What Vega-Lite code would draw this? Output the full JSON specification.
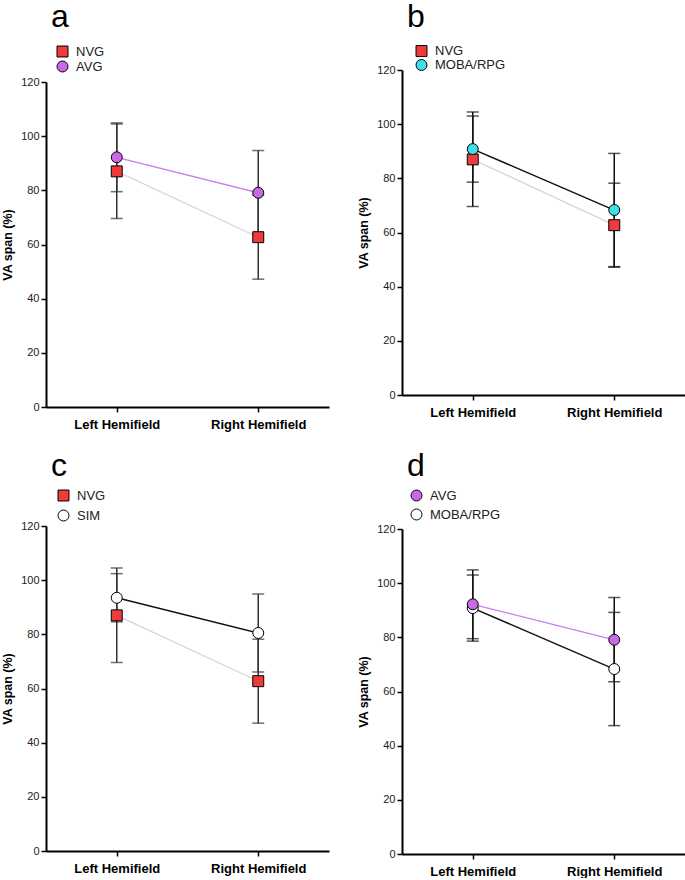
{
  "$schema": "https://vega.github.io/schema/vega-lite/v6.json",
  "background": "white",
  "padding": {"left": 1, "top": 1, "right": 0, "bottom": 0},
  "spacing": 28,
  "resolve": {"scale": {"color": "independent", "shape": "independent"}, "legend": {"color": "independent", "shape": "independent"}},
  "config": {
    "view": {"stroke": null},
    "font": "Liberation Sans",
    "axis": {"domainColor": "black", "domainWidth": 2, "tickColor": "black", "tickWidth": 1.5, "tickSize": 5, "grid": false, "labelColor": "#222"},
    "axisY": {"labelFontSize": 11, "titleFontSize": 12.5, "titleFontWeight": "bold", "titleColor": "black", "labelPadding": 2, "titlePadding": 6},
    "axisX": {"labelFontSize": 13, "labelFontWeight": "bold", "labelColor": "black", "labelAngle": 0, "labelPadding": 6, "title": null},
    "title": {"anchor": "start", "frame": "group", "fontSize": 32, "fontWeight": "normal", "baseline": "alphabetic", "dx": 5, "color": "black"}
  },
  "hconcat": [
    {
      "spacing": 19,
      "resolve": {"scale": {"color": "independent", "shape": "independent"}, "legend": {"color": "independent", "shape": "independent"}},
      "vconcat": [
        {
          "title": {"text": "a", "offset": 11},
          "width": 283, "height": 337,
          "data": {"values": [
            {"group": "NVG", "hemi": "Left Hemifield", "mean": 87.0, "lo": 69.6, "hi": 104.5},
            {"group": "NVG", "hemi": "Right Hemifield", "mean": 62.7, "lo": 47.2, "hi": 78.2},
            {"group": "AVG", "hemi": "Left Hemifield", "mean": 92.2, "lo": 79.5, "hi": 104.9},
            {"group": "AVG", "hemi": "Right Hemifield", "mean": 79.1, "lo": 63.6, "hi": 94.7}
          ]},
          "encoding": {"x": {"field": "hemi", "type": "nominal", "scale": {"type": "point", "padding": 0.5, "domain": ["Left Hemifield", "Right Hemifield"]}}},
          "layer": [
            {"transform": [{"filter": {"field": "group", "equal": "NVG"}}],
             "mark": {"type": "line", "strokeWidth": 1.3, "color": "#d6d6d6"},
             "encoding": {"y": {"field": "mean", "type": "quantitative", "scale": {"domain": [0, 120], "range": [337, 12]}, "title": "VA span (%)", "axis": {"values": [0, 20, 40, 60, 80, 100, 120]}}}},
            {"transform": [{"filter": {"field": "group", "equal": "AVG"}}],
             "mark": {"type": "line", "strokeWidth": 1.3, "color": "#c97fe9"},
             "encoding": {"y": {"field": "mean", "type": "quantitative", "title": "VA span (%)", "axis": {"values": [0, 20, 40, 60, 80, 100, 120]}}}},
            {"mark": {"type": "rule", "color": "#333", "strokeWidth": 1.5},
             "encoding": {"y": {"field": "lo", "type": "quantitative", "title": "VA span (%)", "axis": {"values": [0, 20, 40, 60, 80, 100, 120]}}, "y2": {"field": "hi"}, "detail": {"field": "group"}}},
            {"mark": {"type": "tick", "color": "#333", "thickness": 1.5, "size": 12},
             "encoding": {"y": {"field": "lo", "type": "quantitative", "title": "VA span (%)", "axis": {"values": [0, 20, 40, 60, 80, 100, 120]}}}},
            {"mark": {"type": "tick", "color": "#333", "thickness": 1.5, "size": 12},
             "encoding": {"y": {"field": "hi", "type": "quantitative", "title": "VA span (%)", "axis": {"values": [0, 20, 40, 60, 80, 100, 120]}}}},
            {"mark": {"type": "point", "filled": true, "size": 120, "stroke": "black", "strokeWidth": 1, "opacity": 1},
             "encoding": {"y": {"field": "mean", "type": "quantitative", "title": "VA span (%)", "axis": {"values": [0, 20, 40, 60, 80, 100, 120]}},
                          "color": {"field": "group", "type": "nominal", "scale": {"domain": ["NVG", "AVG"], "range": ["#ef3b3b", "#c86ae8"]}, "legend": {"orient": "none", "title": null, "legendX": 10, "legendY": -25, "rowPadding": 0, "labelOffset": 7, "labelFontSize": 13, "labelColor": "#222", "symbolSize": 120, "symbolStrokeColor": "black", "symbolStrokeWidth": 1}},
                          "shape": {"field": "group", "type": "nominal", "scale": {"domain": ["NVG", "AVG"], "range": ["square", "circle"]}, "legend": {"orient": "none", "title": null, "legendX": 10, "legendY": -25, "rowPadding": 0, "labelOffset": 7, "labelFontSize": 13, "labelColor": "#222", "symbolSize": 120, "symbolStrokeColor": "black", "symbolStrokeWidth": 1}}}}
          ]
        },
        {
          "title": {"text": "c", "offset": 6},
          "width": 283, "height": 325,
          "data": {"values": [
            {"group": "NVG", "hemi": "Left Hemifield", "mean": 87.0, "lo": 69.6, "hi": 104.5},
            {"group": "NVG", "hemi": "Right Hemifield", "mean": 62.7, "lo": 47.2, "hi": 78.2},
            {"group": "SIM", "hemi": "Left Hemifield", "mean": 93.5, "lo": 84.6, "hi": 102.4},
            {"group": "SIM", "hemi": "Right Hemifield", "mean": 80.5, "lo": 66.1, "hi": 94.9}
          ]},
          "encoding": {"x": {"field": "hemi", "type": "nominal", "scale": {"type": "point", "padding": 0.5, "domain": ["Left Hemifield", "Right Hemifield"]}}},
          "layer": [
            {"transform": [{"filter": {"field": "group", "equal": "NVG"}}],
             "mark": {"type": "line", "strokeWidth": 1.3, "color": "#d6d6d6"},
             "encoding": {"y": {"field": "mean", "type": "quantitative", "scale": {"domain": [0, 120]}, "title": "VA span (%)", "axis": {"values": [0, 20, 40, 60, 80, 100, 120]}}}},
            {"transform": [{"filter": {"field": "group", "equal": "SIM"}}],
             "mark": {"type": "line", "strokeWidth": 1.4, "color": "#111111"},
             "encoding": {"y": {"field": "mean", "type": "quantitative", "title": "VA span (%)", "axis": {"values": [0, 20, 40, 60, 80, 100, 120]}}}},
            {"mark": {"type": "rule", "color": "#333", "strokeWidth": 1.5},
             "encoding": {"y": {"field": "lo", "type": "quantitative", "title": "VA span (%)", "axis": {"values": [0, 20, 40, 60, 80, 100, 120]}}, "y2": {"field": "hi"}, "detail": {"field": "group"}}},
            {"mark": {"type": "tick", "color": "#333", "thickness": 1.5, "size": 12},
             "encoding": {"y": {"field": "lo", "type": "quantitative", "title": "VA span (%)", "axis": {"values": [0, 20, 40, 60, 80, 100, 120]}}}},
            {"mark": {"type": "tick", "color": "#333", "thickness": 1.5, "size": 12},
             "encoding": {"y": {"field": "hi", "type": "quantitative", "title": "VA span (%)", "axis": {"values": [0, 20, 40, 60, 80, 100, 120]}}}},
            {"mark": {"type": "point", "filled": true, "size": 120, "stroke": "black", "strokeWidth": 1, "opacity": 1},
             "encoding": {"y": {"field": "mean", "type": "quantitative", "title": "VA span (%)", "axis": {"values": [0, 20, 40, 60, 80, 100, 120]}},
                          "color": {"field": "group", "type": "nominal", "scale": {"domain": ["NVG", "SIM"], "range": ["#ef3b3b", "#ffffff"]}, "legend": {"orient": "none", "title": null, "legendX": 11, "legendY": -37, "rowPadding": 5, "labelOffset": 7, "labelFontSize": 13, "labelColor": "#222", "symbolSize": 120, "symbolStrokeColor": "black", "symbolStrokeWidth": 1}},
                          "shape": {"field": "group", "type": "nominal", "scale": {"domain": ["NVG", "SIM"], "range": ["square", "circle"]}, "legend": {"orient": "none", "title": null, "legendX": 11, "legendY": -37, "rowPadding": 5, "labelOffset": 7, "labelFontSize": 13, "labelColor": "#222", "symbolSize": 120, "symbolStrokeColor": "black", "symbolStrokeWidth": 1}}}}
          ]
        }
      ]
    },
    {
      "spacing": 31,
      "resolve": {"scale": {"color": "independent", "shape": "independent"}, "legend": {"color": "independent", "shape": "independent"}},
      "vconcat": [
        {
          "title": {"text": "b", "offset": 10.5},
          "width": 283, "height": 325,
          "data": {"values": [
            {"group": "NVG", "hemi": "Left Hemifield", "mean": 87.0, "lo": 69.6, "hi": 104.5},
            {"group": "NVG", "hemi": "Right Hemifield", "mean": 62.7, "lo": 47.2, "hi": 78.2},
            {"group": "MOBA/RPG", "hemi": "Left Hemifield", "mean": 90.8, "lo": 78.6, "hi": 103.0},
            {"group": "MOBA/RPG", "hemi": "Right Hemifield", "mean": 68.3, "lo": 47.4, "hi": 89.2}
          ]},
          "encoding": {"x": {"field": "hemi", "type": "nominal", "scale": {"type": "point", "padding": 0.5, "domain": ["Left Hemifield", "Right Hemifield"]}}},
          "layer": [
            {"transform": [{"filter": {"field": "group", "equal": "NVG"}}],
             "mark": {"type": "line", "strokeWidth": 1.3, "color": "#d6d6d6"},
             "encoding": {"y": {"field": "mean", "type": "quantitative", "scale": {"domain": [0, 120]}, "title": "VA span (%)", "axis": {"values": [0, 20, 40, 60, 80, 100, 120]}}}},
            {"transform": [{"filter": {"field": "group", "equal": "MOBA/RPG"}}],
             "mark": {"type": "line", "strokeWidth": 1.4, "color": "#111111"},
             "encoding": {"y": {"field": "mean", "type": "quantitative", "title": "VA span (%)", "axis": {"values": [0, 20, 40, 60, 80, 100, 120]}}}},
            {"mark": {"type": "rule", "color": "#111", "strokeWidth": 1.5},
             "encoding": {"y": {"field": "lo", "type": "quantitative", "title": "VA span (%)", "axis": {"values": [0, 20, 40, 60, 80, 100, 120]}}, "y2": {"field": "hi"}, "detail": {"field": "group"}}},
            {"mark": {"type": "tick", "color": "#111", "thickness": 1.5, "size": 12},
             "encoding": {"y": {"field": "lo", "type": "quantitative", "title": "VA span (%)", "axis": {"values": [0, 20, 40, 60, 80, 100, 120]}}}},
            {"mark": {"type": "tick", "color": "#111", "thickness": 1.5, "size": 12},
             "encoding": {"y": {"field": "hi", "type": "quantitative", "title": "VA span (%)", "axis": {"values": [0, 20, 40, 60, 80, 100, 120]}}}},
            {"mark": {"type": "point", "filled": true, "size": 120, "stroke": "black", "strokeWidth": 1, "opacity": 1},
             "encoding": {"y": {"field": "mean", "type": "quantitative", "title": "VA span (%)", "axis": {"values": [0, 20, 40, 60, 80, 100, 120]}},
                          "color": {"field": "group", "type": "nominal", "scale": {"domain": ["NVG", "MOBA/RPG"], "range": ["#ef3b3b", "#3fe0e8"]}, "legend": {"orient": "none", "title": null, "legendX": 13, "legendY": -25.5, "rowPadding": -2, "labelOffset": 7, "labelFontSize": 13, "labelColor": "#222", "symbolSize": 120, "symbolStrokeColor": "black", "symbolStrokeWidth": 1}},
                          "shape": {"field": "group", "type": "nominal", "scale": {"domain": ["NVG", "MOBA/RPG"], "range": ["square", "circle"]}, "legend": {"orient": "none", "title": null, "legendX": 13, "legendY": -25.5, "rowPadding": -2, "labelOffset": 7, "labelFontSize": 13, "labelColor": "#222", "symbolSize": 120, "symbolStrokeColor": "black", "symbolStrokeWidth": 1}}}}
          ]
        },
        {
          "title": {"text": "d", "offset": 6},
          "width": 283, "height": 325,
          "data": {"values": [
            {"group": "MOBA/RPG", "hemi": "Left Hemifield", "mean": 90.8, "lo": 78.6, "hi": 103.0},
            {"group": "MOBA/RPG", "hemi": "Right Hemifield", "mean": 68.3, "lo": 47.4, "hi": 89.2},
            {"group": "AVG", "hemi": "Left Hemifield", "mean": 92.2, "lo": 79.5, "hi": 104.9},
            {"group": "AVG", "hemi": "Right Hemifield", "mean": 79.1, "lo": 63.6, "hi": 94.7}
          ]},
          "encoding": {"x": {"field": "hemi", "type": "nominal", "scale": {"type": "point", "padding": 0.5, "domain": ["Left Hemifield", "Right Hemifield"]}}},
          "layer": [
            {"transform": [{"filter": {"field": "group", "equal": "MOBA/RPG"}}],
             "mark": {"type": "line", "strokeWidth": 1.4, "color": "#111111"},
             "encoding": {"y": {"field": "mean", "type": "quantitative", "scale": {"domain": [0, 120]}, "title": "VA span (%)", "axis": {"values": [0, 20, 40, 60, 80, 100, 120]}}}},
            {"transform": [{"filter": {"field": "group", "equal": "AVG"}}],
             "mark": {"type": "line", "strokeWidth": 1.3, "color": "#c97fe9"},
             "encoding": {"y": {"field": "mean", "type": "quantitative", "title": "VA span (%)", "axis": {"values": [0, 20, 40, 60, 80, 100, 120]}}}},
            {"mark": {"type": "rule", "color": "#111", "strokeWidth": 1.5},
             "encoding": {"y": {"field": "lo", "type": "quantitative", "title": "VA span (%)", "axis": {"values": [0, 20, 40, 60, 80, 100, 120]}}, "y2": {"field": "hi"}, "detail": {"field": "group"}}},
            {"mark": {"type": "tick", "color": "#111", "thickness": 1.5, "size": 12},
             "encoding": {"y": {"field": "lo", "type": "quantitative", "title": "VA span (%)", "axis": {"values": [0, 20, 40, 60, 80, 100, 120]}}}},
            {"mark": {"type": "tick", "color": "#111", "thickness": 1.5, "size": 12},
             "encoding": {"y": {"field": "hi", "type": "quantitative", "title": "VA span (%)", "axis": {"values": [0, 20, 40, 60, 80, 100, 120]}}}},
            {"mark": {"type": "point", "filled": true, "size": 120, "stroke": "black", "strokeWidth": 1, "opacity": 1},
             "encoding": {"y": {"field": "mean", "type": "quantitative", "title": "VA span (%)", "axis": {"values": [0, 20, 40, 60, 80, 100, 120]}},
                          "color": {"field": "group", "type": "nominal", "scale": {"domain": ["AVG", "MOBA/RPG"], "range": ["#c86ae8", "#ffffff"]}, "legend": {"orient": "none", "title": null, "legendX": 8, "legendY": -40, "rowPadding": 4, "labelOffset": 7, "labelFontSize": 13, "labelColor": "#222", "symbolSize": 120, "symbolStrokeColor": "black", "symbolStrokeWidth": 1}},
                          "shape": {"field": "group", "type": "nominal", "scale": {"domain": ["AVG", "MOBA/RPG"], "range": ["circle", "circle"]}, "legend": {"orient": "none", "title": null, "legendX": 8, "legendY": -40, "rowPadding": 4, "labelOffset": 7, "labelFontSize": 13, "labelColor": "#222", "symbolSize": 120, "symbolStrokeColor": "black", "symbolStrokeWidth": 1}}}}
          ]
        }
      ]
    }
  ]
}
